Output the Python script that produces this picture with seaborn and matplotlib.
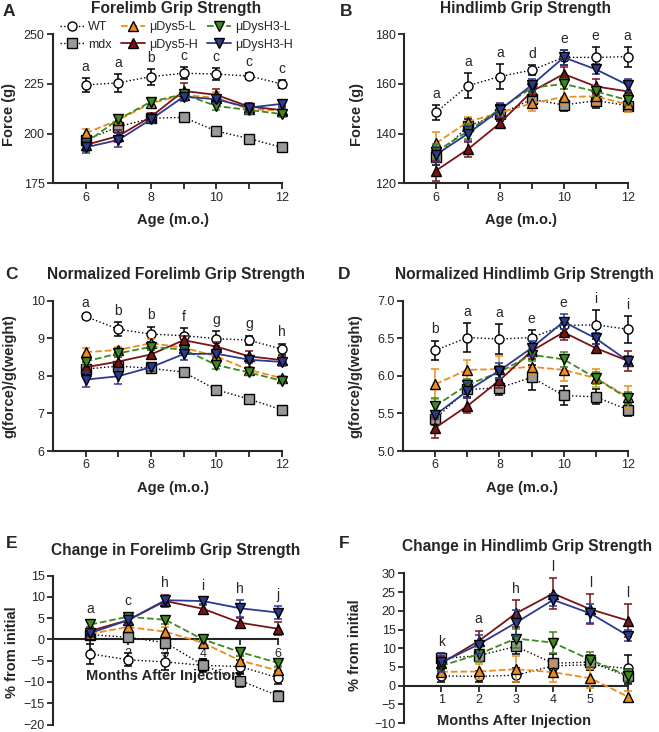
import matplotlib
matplotlib.use('Agg')
import matplotlib.pyplot as plt
import numpy as np
import seaborn as sns

groups = ['WT', 'mdx', 'μDys5-L', 'μDys5-H', 'μDysH3-L', 'μDysH3-H']
ages = [6, 7, 8, 9, 10, 11, 12]
months = [1, 2, 3, 4, 5, 6]

# rows follow the order of groups
fore_mean = [[224.5, 225.6, 228.7, 230.4, 230.0, 229.0, 225.0],
             [196.8, 203.5, 207.7, 208.2, 201.3, 197.5, 193.1],
             [200.2, 206.9, 215.3, 219.5, 218.0, 212.3, 211.6],
             [194.3, 198.8, 208.5, 221.5, 219.5, 213.6, 211.9],
             [195.4, 207.2, 216.1, 219.8, 213.9, 211.9, 209.9],
             [193.1, 196.8, 207.2, 218.6, 217.3, 213.1, 215.0]]
fore_err = [[3.5, 4.5, 4, 3, 3, 1.5, 2],
            [2, 2, 2, 1.5, 1.5, 1.5, 1.5],
            [2, 2, 2, 2, 3, 2, 2],
            [3, 3, 2, 4, 3, 2, 2],
            [2, 2, 2, 2, 2, 2, 1.5],
            [3, 3.5, 2, 2, 2, 2, 2]]
fore_letters = ['a', 'a', 'b', 'c', 'c', 'c', 'c']

hind_mean = [[148.6, 159.3, 163.0, 165.6, 170.7, 170.7, 171.0],
             [130.5, 143.0, 147.9, 153.8, 151.5, 153.3, 151.3],
             [136.1, 144.8, 148.4, 152.2, 154.8, 155.0, 151.8],
             [125.1, 133.7, 144.2, 157.0, 164.0, 159.0, 157.0],
             [132.7, 141.0, 149.9, 158.5, 160.0, 157.0, 153.5],
             [131.5, 140.0, 149.5, 159.6, 170.7, 165.9, 159.6]]
hind_err = [[3, 5, 5, 2, 3, 4, 4],
            [3, 3, 3, 2.5, 2.5, 3, 2],
            [4.5, 2, 2, 3, 3, 3, 3],
            [4, 3, 2, 2, 3, 3, 3],
            [3, 3, 2, 2, 2, 2, 2],
            [3, 3, 3, 2.5, 3, 2, 2.5]]
hind_letters = ['a', 'a', 'a', 'd', 'e', 'e', 'a']

nfore_mean = [[9.58, 9.24, 9.11, 9.07, 8.99, 8.95, 8.71],
              [8.18, 8.26, 8.20, 8.10, 7.63, 7.38, 7.10],
              [8.63, 8.69, 8.87, 8.75, 8.52, 8.16, 7.94],
              [8.23, 8.38, 8.57, 8.95, 8.78, 8.52, 8.42],
              [8.38, 8.60, 8.77, 8.70, 8.29, 8.09, 7.87],
              [7.90, 7.99, 8.23, 8.58, 8.59, 8.43, 8.37]]
nfore_err = [[0.07, 0.18, 0.2, 0.2, 0.2, 0.12, 0.15],
             [0.05, 0.05, 0.05, 0.05, 0.05, 0.05, 0.05],
             [0.12, 0.08, 0.1, 0.1, 0.12, 0.08, 0.06],
             [0.15, 0.12, 0.12, 0.1, 0.12, 0.15, 0.08],
             [0.1, 0.08, 0.08, 0.08, 0.1, 0.06, 0.06],
             [0.2, 0.2, 0.1, 0.15, 0.1, 0.08, 0.1]]
nfore_letters = ['a', 'b', 'b', 'f', 'g', 'g', 'h']

nhind_mean = [[6.34, 6.51, 6.49, 6.51, 6.67, 6.68, 6.62],
              [5.43, 5.82, 5.84, 5.98, 5.74, 5.72, 5.55],
              [5.89, 6.08, 6.09, 6.12, 6.08, 5.97, 5.72],
              [5.31, 5.60, 5.94, 6.33, 6.58, 6.37, 6.20],
              [5.60, 5.88, 6.05, 6.28, 6.22, 5.97, 5.70],
              [5.48, 5.80, 6.07, 6.37, 6.72, 6.50, 6.20]]
nhind_err = [[0.13, 0.19, 0.2, 0.1, 0.1, 0.19, 0.18],
             [0.08, 0.1, 0.1, 0.17, 0.13, 0.1, 0.08],
             [0.2, 0.13, 0.17, 0.1, 0.15, 0.12, 0.15],
             [0.14, 0.1, 0.1, 0.1, 0.1, 0.05, 0.13],
             [0.1, 0.08, 0.08, 0.08, 0.1, 0.08, 0.08],
             [0.05, 0.1, 0.1, 0.1, 0.1, 0.07, 0.07]]
nhind_letters = ['b', 'a', 'a', 'e', 'e', 'i', 'i']

cfore_mean = [[-3.4, -4.8, -5.3, -6.1, -6.4, -9.0],
              [1.1, 0.5, -0.8, -6.0, -9.7, -13.2],
              [1.3, 2.9, 1.8, -0.8, -5.0, -7.3],
              [2.0, 4.5, 9.0, 7.2, 3.9, 2.5],
              [3.5, 5.3, 4.6, 0.0, -3.0, -5.5],
              [1.5, 4.5, 9.2, 9.0, 7.3, 6.3]]
cfore_err = [[2.3, 1.5, 2, 1.5, 1.5, 1.5],
             [1, 1, 1, 1.5, 1.5, 1],
             [1, 1, 1, 1, 1, 1],
             [1, 1, 1.5, 1, 1, 1.5],
             [1, 1, 1, 0.5, 1, 1],
             [1, 1, 1, 1, 2, 1.5]]
cfore_letters = ['a', 'c', 'h', 'i', 'h', 'j']

chind_mean = [[2.6, 2.5, 2.8, 5.3, 5.6, 4.6],
              [7.3, 8.0, 10.5, 6.0, 6.3, 2.5],
              [3.7, 3.8, 4.4, 3.6, 2.0, -2.9],
              [6.0, 11.9, 19.3, 24.6, 20.4, 17.4],
              [5.3, 8.4, 12.6, 11.5, 6.9, 2.7],
              [6.2, 11.0, 16.8, 22.9, 19.3, 13.4]]
chind_err = [[1.5, 1.5, 1.8, 1.5, 1.5, 3.5],
             [1.5, 1.5, 2, 2.5, 2, 2],
             [1.5, 2, 3.5, 2.5, 2.5, 1.5],
             [2, 2.8, 3.5, 4.2, 4, 4.3],
             [1.5, 2, 2.5, 2.8, 2, 1.5],
             [2.5, 2.5, 3.5, 1.5, 2.5, 1.5]]
chind_letters = ['k', 'a', 'h', 'l', 'l', 'l']

line_colors = ['black', 'black', '#EE8B1E', '#7A1414', '#3D8A1E', '#2B3A8F']
face_colors = ['white', '#9A9A9A', '#EE8B1E', '#7A1414', '#3D8A1E', '#2B3A8F']
styles = [':', ':', '--', '-', '--', '-']
markers = ['o', 's', '^', '^', 'v', 'v']

sns.set_style('ticks')
plt.rcParams['font.family'] = ['Liberation Sans', 'DejaVu Sans']

W, H = 659, 732
fig = plt.figure(figsize=(W / 100, H / 100), dpi=100)


def panel(box, x, means, errs, letters, xlim, ylim, yticks, xticks, zero_axis=False):
    l, t, r, b = box
    ax = fig.add_axes([l / W, 1 - b / H, (r - l) / W, (b - t) / H])
    for i in reversed(range(len(groups))):
        ax.errorbar(x, means[i], yerr=errs[i], fmt='none', ecolor=line_colors[i],
                    elinewidth=1.1, capsize=3, capthick=1.1, zorder=3 + i * 0.1, clip_on=False)
        sns.lineplot(x=x, y=means[i], ax=ax, color=line_colors[i], linestyle=styles[i],
                     lw=1.3 if styles[i] != ':' else 1.0, marker=markers[i], markersize=6.5,
                     markerfacecolor=face_colors[i], markeredgecolor='black', markeredgewidth=1.0,
                     errorbar=None, label=groups[i], zorder=3.05 + i * 0.1, clip_on=False)
    tops = np.max(np.array(means) + np.array(errs), axis=0)
    for xi, top, let in zip(x, tops, letters):
        ax.annotate(let, (xi, top), xytext=(0, 3), textcoords='offset points',
                    ha='center', va='bottom', fontsize=10)
    ax.set_xlim(xlim)
    ax.set_ylim(ylim)
    ax.set_yticks(yticks)
    ax.set_xticks(xticks)
    if not zero_axis:
        ax.set_xticks([v for v in range(int(xlim[0]) + 1, int(xlim[1]) + 1) if v not in xticks], minor=True)
    else:
        ax.spines['bottom'].set_position(('data', 0))
    sns.despine(ax=ax)
    for s in ['left', 'bottom']:
        ax.spines[s].set_linewidth(1.5)
    ax.tick_params(which='major', length=4, width=1.3, labelsize=9, pad=2)
    ax.tick_params(which='minor', length=4, width=1.3)
    if ax.get_legend() is not None:
        ax.get_legend().remove()
    return ax


def to_ax(box, px, py):
    l, t, r, b = box
    return (px - l) / (r - l), (b - py) / (b - t)


boxA = (53, 34.3, 281.7, 183.3)
boxB = (404, 34.3, 627.7, 183.3)
boxC = (53, 300.7, 281.7, 451)
boxD = (403.3, 300.7, 627.7, 451)
boxE = (53, 575.5, 277.7, 724.5)
boxF = (404, 573.3, 627.7, 723.2)

axA = panel(boxA, ages, fore_mean, fore_err, fore_letters, (5, 12), (175, 250), [175, 200, 225, 250], [6, 8, 10, 12])
axB = panel(boxB, ages, hind_mean, hind_err, hind_letters, (5, 12), (120, 180), [120, 140, 160, 180], [6, 8, 10, 12])
axC = panel(boxC, ages, nfore_mean, nfore_err, nfore_letters, (5, 12), (6, 10), [6, 7, 8, 9, 10], [6, 8, 10, 12])
axD = panel(boxD, ages, nhind_mean, nhind_err, nhind_letters, (5, 12), (5, 7), [5.0, 5.5, 6.0, 6.5, 7.0], [6, 8, 10, 12])
axE = panel(boxE, months, cfore_mean, cfore_err, cfore_letters, (0, 6), (-20, 15), list(range(-20, 16, 5)), months, zero_axis=True)
axF = panel(boxF, months, chind_mean, chind_err, chind_letters, (0, 6), (-10, 30), list(range(-10, 31, 5)), months, zero_axis=True)
axD.set_yticklabels(['5.0', '5.5', '6.0', '6.5', '7.0'])

lab = dict(fontsize=10.5, fontweight='bold', ha='center', va='center')
for ax, box, ylab, ycen, xlab, xcen in [
        (axA, boxA, 'Force (g)', (9, 114), 'Age (m.o.)', (173, 220)),
        (axB, boxB, 'Force (g)', (357, 115), 'Age (m.o.)', (521, 220)),
        (axC, boxC, 'g(force)/g(weight)', (9, 376), 'Age (m.o.)', (173, 488)),
        (axD, boxD, 'g(force)/g(weight)', (355, 376), 'Age (m.o.)', (522, 488)),
        (axE, boxE, '% from initial', (12, 652), 'Months After Injection', (163, 676)),
        (axF, boxF, '% from initial', (355, 645), 'Months After Injection', (514, 721))]:
    ax.set_ylabel(ylab, **lab)
    ax.yaxis.set_label_coords(*to_ax(box, *ycen))
    ax.set_xlabel(xlab, **lab)
    ax.xaxis.set_label_coords(*to_ax(box, *xcen))

titles = [('Forelimb Grip Strength', 176, 8), ('Hindlimb Grip Strength', 525, 8),
          ('Normalized Forelimb Grip Strength', 176, 274), ('Normalized Hindlimb Grip Strength', 524, 274),
          ('Change in Forelimb Grip Strength', 176, 550), ('Change in Hindlimb Grip Strength', 527, 547)]
for txt, px, py in titles:
    fig.text(px / W, 1 - py / H, txt, fontsize=11.2, fontweight='bold', ha='center', va='center')

for let, px, py in [('A', 9, 12), ('B', 346, 11), ('C', 12, 274), ('D', 344, 274), ('E', 12, 544), ('F', 344, 544)]:
    fig.text(px / W, 1 - py / H, let, fontsize=12.5, fontweight='bold', ha='center', va='center')

handles, labels = axA.get_legend_handles_labels()
order = [labels.index(g) for g in groups]
axA.legend([handles[k] for k in order], groups, ncol=3, loc='upper left',
           bbox_to_anchor=(0.031, 1.09), frameon=False, fontsize=9, handlelength=1.9,
           handletextpad=0.35, columnspacing=0.75, labelspacing=0.45, borderpad=0, borderaxespad=0)

fig.savefig('out.png', dpi=100)
